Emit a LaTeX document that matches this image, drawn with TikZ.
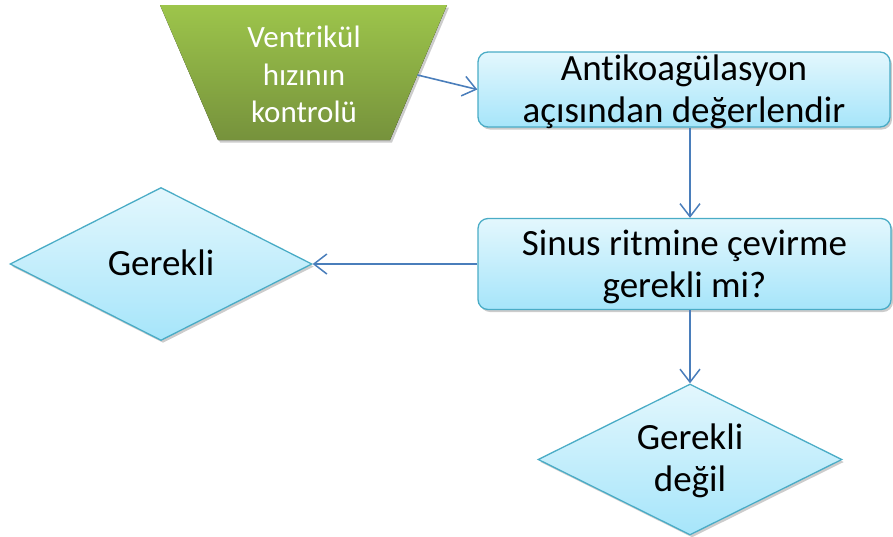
\documentclass[tikz,border=0pt]{standalone}
\usepackage{fontspec}
\setmainfont{Carlito}[Ligatures={NoCommon}]
\usetikzlibrary{shapes.geometric,arrows.meta,shadows}
\definecolor{boxtop}{HTML}{E3F7FD}
\definecolor{boxbot}{HTML}{A6E5FA}
\definecolor{boxline}{HTML}{4AACC6}
\definecolor{arrowc}{HTML}{4A7EBB}
\definecolor{greentop}{HTML}{9DC54B}
\definecolor{greenbot}{HTML}{76923C}
\tikzset{
  myshadow/.style={drop shadow={opacity=0.2, shadow xshift=2pt, shadow yshift=-2.5pt, fill=black}},
  procbox/.style={rectangle, rounded corners=10pt, draw=boxline, line width=1.3pt,
    top color=boxtop, bottom color=boxbot, myshadow, inner sep=0pt},
  decbox/.style={diamond, draw=boxline, line width=1.3pt, top color=boxtop, bottom color=boxbot,
    myshadow, inner sep=0pt, aspect=2},
  bigtext/.style={align=center, inner sep=0pt, font=\fontsize{37}{42}\selectfont},
  conn/.style={draw=arrowc, line width=1.6pt, -{Straight Barb[length=13pt,width=20pt,line width=1.5pt]}},
}
\begin{document}
\begin{tikzpicture}[x=1pt,y=-1pt]
\useasboundingbox (0,0) rectangle (893,536);
% trapezoid
\fill[top color=greentop, bottom color=greenbot, myshadow] (160,5) -- (447,5) -- (390,140) -- (218,140) -- cycle;
\node[text=white, align=center, inner sep=0pt, font=\fontsize{31}{37.5}\selectfont] (trap) at (304,74.5) {Ventrikül\\hızının\\kontrolü};
\coordinate (trapR) at (417.5,75);
% boxes
\node[procbox, minimum width=412pt, minimum height=75pt] (b1) at (684,89.5) {};
\node[bigtext] (t1) at (684,92) {Antikoagülasyon\\açısından değerlendir};
\node[procbox, minimum width=413pt, minimum height=91pt] (b2) at (684.5,264) {};
\node[bigtext] (t2) at (684.5,267) {Sinus ritmine çevirme\\gerekli mi?};
% diamonds
\node[decbox, minimum width=302pt, minimum height=153pt] (d1) at (161,264) {};
\node[bigtext] (t3) at (161,263) {Gerekli};
\node[decbox, minimum width=304pt, minimum height=151pt] (d2) at (690,459.5) {};
\node[bigtext] (t4) at (690,461) {Gerekli\\değil};
% connectors
\draw[conn] (trapR) -- (b1.west);
\draw[conn] (b1.south -| d2.north) -- (b2.north -| d2.north);
\draw[conn] (b2.west) -- (d1.east);
\draw[conn] (b2.south -| d2.north) -- (d2.north);
\end{tikzpicture}
\end{document}
